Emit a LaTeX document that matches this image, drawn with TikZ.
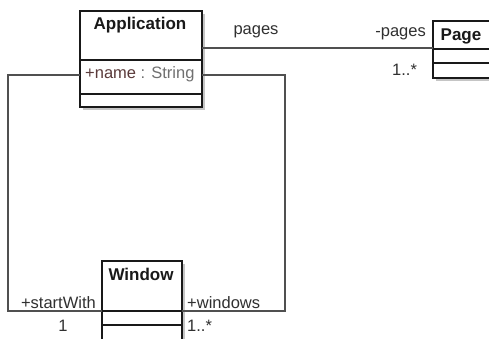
\documentclass[tikz,border=0pt]{standalone}
\usepackage{fontspec}
\setmainfont{Liberation Sans}
\usetikzlibrary{shadows}
\definecolor{txt}{HTML}{303030}
\definecolor{attr}{HTML}{5A3A3A}
\definecolor{typ}{HTML}{707070}
\definecolor{conncol}{HTML}{505050}
\begin{document}
\begin{tikzpicture}[x=1pt,y=-1pt,
  cls/.style={draw=black!90, line width=1.4pt, fill=white, inner sep=0pt, outer sep=0pt, anchor=north west,
    drop shadow={shadow xshift=3pt, shadow yshift=-3pt, fill=black!45}},
  comp/.style={draw=black!90, line width=1.1pt},
  conn/.style={draw=conncol, line width=1.1pt},
  lbl/.style={font=\fontsize{16.5}{19}\selectfont, text=txt, inner sep=0pt},
  ttl/.style={font=\fontsize{17}{20}\selectfont\bfseries, text=black!90, inner sep=0pt, anchor=base}]
\useasboundingbox (0,0) rectangle (489,339);
\clip (0,0) rectangle (489,339);
\fill[white] (0,0) rectangle (489,339);

% classes
\node[cls, minimum width=122pt, minimum height=96pt] (app) at (80,11) {};
\node[cls, minimum width=62pt, minimum height=57pt] (page) at (433,21) {};
\node[cls, minimum width=80pt, minimum height=90pt] (win) at (102,261) {};

% compartments
\draw[comp] ([yshift=-49pt]app.north west) -- ([yshift=-49pt]app.north east);
\draw[comp] ([yshift=-83pt]app.north west) -- ([yshift=-83pt]app.north east);
\draw[comp] ([yshift=-28pt]page.north west) -- ([yshift=-28pt]page.north east);
\draw[comp] ([yshift=-42pt]page.north west) -- ([yshift=-42pt]page.north east);
\draw[comp] ([yshift=-50pt]win.north west) -- ([yshift=-50pt]win.north east);
\draw[comp] ([yshift=-64pt]win.north west) -- ([yshift=-64pt]win.north east);

% titles and attribute
\node[ttl] (appT) at (140,30) {Application};
\node[ttl] (pageT) at (461,41) {Page};
\node[ttl] (winT) at (141,280) {Window};
\node[lbl, anchor=base west] (attrT) at (85,79) {\textcolor{attr}{+name} \textcolor{typ}{: String}};

% connectors
\draw[conn] ([yshift=-37pt]app.north east) -- ([yshift=-37pt]app.north east -| page.west);
\draw[conn] ([yshift=-64pt]app.north west) -- ++(-72,0) |- ([yshift=-50pt]win.north west);
\draw[conn] ([yshift=-64pt]app.north east) -- ++(83,0) |- ([yshift=-50pt]win.north east);

% association labels
\node[lbl, anchor=base] (l1) at (256,35) {pages};
\node[lbl, anchor=base east] (l2) at (426,37) {-pages};
\node[lbl, anchor=base west] (l3) at (392,76) {1..*};
\node[lbl, anchor=base east] (l4) at (96,308) {+startWith};
\node[lbl, anchor=base] (l5) at (63,331) {1};
\node[lbl, anchor=base west] (l6) at (187,308) {+windows};
\node[lbl, anchor=base west] (l7) at (187,331) {1..*};
\end{tikzpicture}
\end{document}
